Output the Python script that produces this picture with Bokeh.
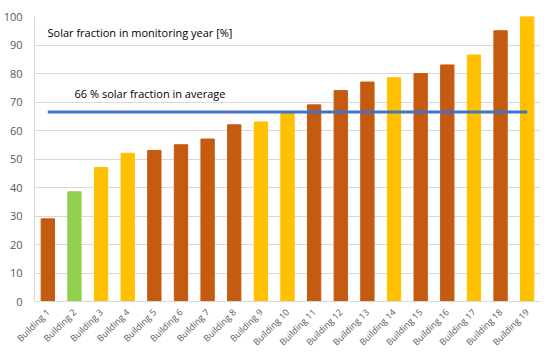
from bokeh.plotting import figure
from bokeh.models import ColumnDataSource, Label, FactorRange
from bokeh.embed import file_html
from bokeh.resources import INLINE
import math

buildings = [f"Building {i}" for i in range(1, 20)]
values = [29, 38.5, 47, 52, 53, 55, 57, 62, 63, 66, 69, 74, 77, 78.5, 80, 83, 86.5, 95, 100]
groups = ["o", "g", "y", "y", "o", "o", "o", "o", "y", "y", "o", "o", "o", "y", "o", "o", "y", "o", "y"]
palette = {"o": "#C55A11", "g": "#92D050", "y": "#FFC000"}
average = 66.5
title_text = "Solar fraction in monitoring year [%]"
avg_text = "66 % solar fraction in average"
y_ticks = list(range(0, 101, 10))

colors = [palette[g] for g in groups]
src = ColumnDataSource(dict(x=buildings, top=values, color=colors))

p = figure(frame_width=506, frame_height=285, x_range=FactorRange(*buildings, range_padding=0),
           y_range=(0, 100), output_backend="svg", toolbar_location=None,
           min_border_left=33, min_border_right=10, min_border_top=16, min_border_bottom=52)
p.vbar(x="x", top="top", width=0.5, color="color", source=src)
p.line(x=[buildings[0], buildings[-1]], y=[average, average], line_color="#4472C4", line_width=3)

p.outline_line_color = None
p.xgrid.grid_line_color = None
p.ygrid.grid_line_color = "#D9D9D9"
p.ygrid.grid_line_width = 1
p.yaxis.ticker = y_ticks
p.yaxis.axis_line_color = "#D9D9D9"
p.yaxis.major_tick_line_color = None
p.yaxis.minor_tick_line_color = None
p.yaxis.major_label_text_color = "#595959"
p.yaxis.major_label_text_font = "Open Sans"
p.yaxis.major_label_text_font_size = "11px"
p.yaxis.major_label_standoff = 6
p.xaxis.axis_line_color = "#D9D9D9"
p.xaxis.major_tick_line_color = None
p.xaxis.major_label_orientation = math.pi / 4
p.xaxis.major_label_text_color = "#595959"
p.xaxis.major_label_text_font = "Open Sans"
p.xaxis.major_label_text_font_size = "9px"
p.xaxis.major_label_standoff = 3

p.add_layout(Label(x=13, y=262, x_units="screen", y_units="screen", text=title_text,
                   text_font="Open Sans", text_font_size="11px", text_color="#000000"))
p.add_layout(Label(x=40, y=201, x_units="screen", y_units="screen", text=avg_text,
                   text_font="Open Sans", text_font_size="11px", text_color="#000000"))

open("out.html", "w").write(file_html(p, INLINE))
